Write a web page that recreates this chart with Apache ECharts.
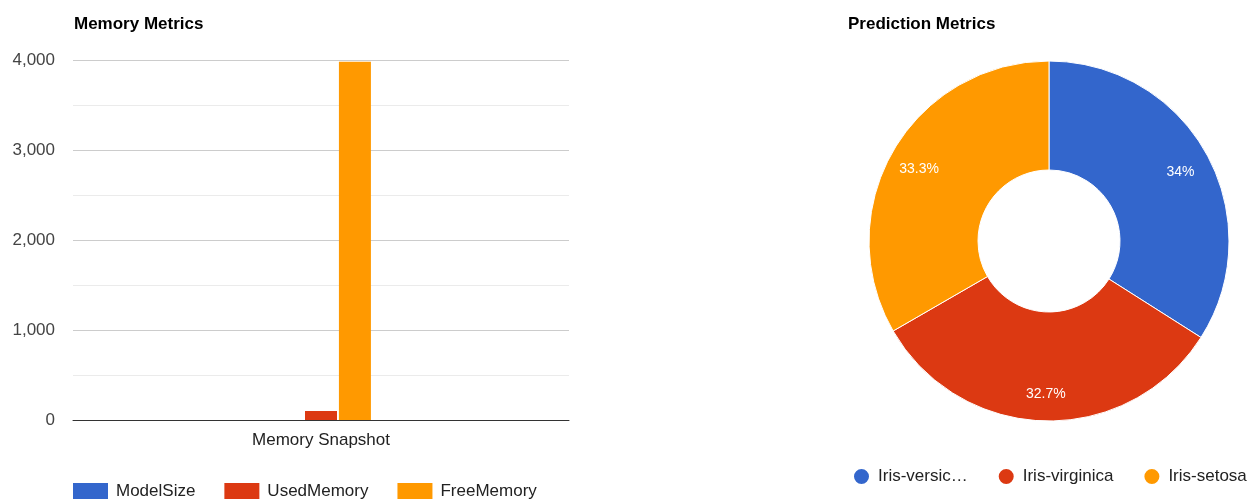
<!DOCTYPE html>
<html>
<head>
<meta charset="utf-8">
<script src="https://cdn.jsdelivr.net/npm/echarts@6/dist/echarts.min.js"></script>
<style>
html,body{margin:0;padding:0;background:#fff;}
#c{width:1249px;height:499px;}
</style>
</head>
<body>
<div id="c"></div>
<script>
const barCategories = ['Memory Snapshot'];
const barSeriesNames = ['ModelSize', 'UsedMemory', 'FreeMemory'];
const modelSize = [1];
const usedMemory = [100];
const freeMemory = [3980];
const yTicks = [0, 1000, 2000, 3000, 4000];
const pieNames = ['Iris-versicolor', 'Iris-virginica', 'Iris-setosa'];
const pieValues = [51, 49, 50];
const colors = ['#3366cc', '#dc3912', '#ff9900'];

const font = '"Liberation Sans", Arial, sans-serif';
const chart = echarts.init(document.getElementById('c'));
const barData = [modelSize, usedMemory, freeMemory];
const fmtPct = function (p) { return parseFloat(p.percent.toFixed(1)) + '%'; };

chart.setOption({
  animation: false,
  textStyle: { fontFamily: font },
  title: [
    { text: 'Memory Metrics', left: 69, top: 11, textStyle: { fontSize: 17, fontWeight: 'bold', color: '#000', fontFamily: font } },
    { text: 'Prediction Metrics', left: 843, top: 11, textStyle: { fontSize: 17, fontWeight: 'bold', color: '#000', fontFamily: font } }
  ],
  legend: [
    {
      data: barSeriesNames,
      left: 73, top: 483, padding: 0,
      itemWidth: 35, itemHeight: 17, itemGap: 29,
      icon: 'rect',
      textStyle: { fontSize: 17, color: '#222', fontFamily: font, padding: [0, 0, 0, 3] }
    },
    {
      data: pieNames,
      left: 852, top: 467, padding: 0, width: 397,
      itemWidth: 17, itemHeight: 17, itemGap: 29,
      icon: 'circle',
      formatter: function (n) { return n === 'Iris-versicolor' ? 'Iris-versic…' : n; },
      textStyle: { fontSize: 17, color: '#222', fontFamily: font, padding: [0, 0, 0, 3] }
    }
  ],
  grid: { left: 73, right: 680, top: 60, bottom: 79, containLabel: false },
  xAxis: {
    type: 'category',
    data: barCategories,
    axisLine: { lineStyle: { color: '#333', width: 1 } },
    axisTick: { show: false },
    axisLabel: { fontSize: 17, color: '#222', margin: 12, fontFamily: font }
  },
  yAxis: {
    type: 'value',
    min: yTicks[0], max: yTicks[yTicks.length - 1], interval: 1000,
    axisLine: { show: false },
    axisTick: { show: false },
    axisLabel: { fontSize: 17, color: '#444', margin: 18, fontFamily: font,
      formatter: function (v) { return v.toLocaleString('en-US'); } },
    splitLine: { lineStyle: { color: '#cccccc' } },
    minorTick: { show: false, splitNumber: 2 },
    minorSplitLine: { show: true, lineStyle: { color: '#ebebeb' } }
  },
  series: barSeriesNames.map((n, i) => ({
    name: n,
    type: 'bar',
    data: barData[i],
    barWidth: 32,
    barGap: '6%',
    itemStyle: { color: colors[i] }
  })).concat([{
    name: 'Prediction',
    type: 'pie',
    center: [1049, 241],
    radius: [71, 180],
    startAngle: 90,
    clockwise: true,
    data: pieNames.map((n, i) => ({ name: n, value: pieValues[i], itemStyle: { color: colors[i] } })),
    itemStyle: { borderColor: '#fff', borderWidth: 1 },
    label: { show: false },
    labelLine: { show: false },
    emphasis: { disabled: true }
  }, {
    name: 'PredictionLabels',
    type: 'pie',
    center: [1049, 241],
    radius: [114, 180],
    startAngle: 90,
    clockwise: true,
    silent: true,
    data: pieNames.map((n, i) => ({ name: n, value: pieValues[i] })),
    itemStyle: { color: 'rgba(0,0,0,0)' },
    label: {
      position: 'inside',
      color: '#fff',
      fontSize: 14,
      fontWeight: 'normal',
      fontFamily: font,
      offset: [0, 3],
      formatter: fmtPct
    },
    labelLine: { show: false },
    emphasis: { disabled: true }
  }])
});
</script>
</body>
</html>
